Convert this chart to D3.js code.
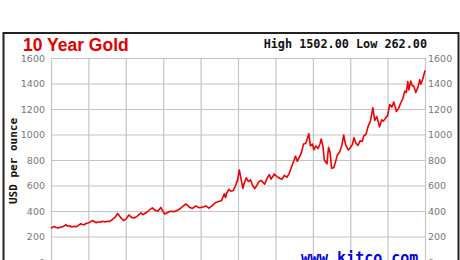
<!DOCTYPE html>
<html>
<head>
<meta charset="utf-8">
<script src="https://cdn.jsdelivr.net/npm/d3@7"></script>
<style>
body { margin: 0; background: #fff; }
</style>
</head>
<body>
<div id="chart"></div>
<script>
// data
var dates = ["2001-04-25","2001-05-10","2001-05-25","2001-06-15","2001-07-05","2001-07-25","2001-08-15","2001-09-05","2001-09-20","2001-10-05","2001-10-25","2001-11-15","2001-12-05","2001-12-25",
"2002-01-15","2002-02-10","2002-02-25","2002-03-15","2002-04-01","2002-04-20","2002-05-10","2002-06-01","2002-06-20","2002-07-10","2002-07-25","2002-08-15","2002-09-10","2002-09-25","2002-10-10","2002-10-30","2002-11-20","2002-12-10",
"2003-01-10","2003-02-05","2003-02-20","2003-03-15","2003-04-05","2003-05-01","2003-05-25","2003-06-20","2003-07-15","2003-08-15","2003-09-20","2003-10-10","2003-10-30","2003-11-20","2003-12-15",
"2004-01-10","2004-02-05","2004-03-05","2004-04-01","2004-04-20","2004-05-10","2004-06-10","2004-07-10","2004-08-10","2004-09-10","2004-10-10","2004-11-15","2004-12-05",
"2005-01-05","2005-02-05","2005-03-10","2005-04-10","2005-05-10","2005-06-15","2005-07-15","2005-08-15","2005-09-15","2005-10-15","2005-11-15","2005-12-12","2005-12-25",
"2006-01-05","2006-01-25","2006-02-15","2006-03-10","2006-04-01","2006-04-20","2006-05-08","2006-05-25","2006-06-12","2006-06-25","2006-07-15","2006-08-05","2006-08-25","2006-09-15","2006-10-05","2006-10-25","2006-11-15","2006-12-05","2006-12-25",
"2007-01-10","2007-02-05","2007-02-25","2007-03-15","2007-04-15","2007-05-10","2007-06-10","2007-06-30","2007-07-20","2007-08-15","2007-09-05","2007-09-25","2007-10-20","2007-11-08","2007-11-25","2007-12-20",
"2008-01-05","2008-01-25","2008-02-15","2008-03-05","2008-03-17","2008-04-01","2008-04-20","2008-05-05","2008-05-25","2008-06-15","2008-07-05","2008-07-15","2008-08-01","2008-08-15","2008-09-10","2008-09-25","2008-10-10","2008-10-25","2008-11-15","2008-12-01","2008-12-20",
"2009-01-10","2009-02-01","2009-02-20","2009-03-10","2009-04-05","2009-04-20","2009-05-15","2009-06-01","2009-06-20","2009-07-10","2009-07-30","2009-08-20","2009-09-05","2009-09-25","2009-10-15","2009-11-10","2009-12-02","2009-12-20",
"2010-01-10","2010-02-05","2010-02-25","2010-03-15","2010-04-05","2010-04-25","2010-05-15","2010-06-05","2010-06-25","2010-07-20","2010-08-10","2010-08-30","2010-09-20","2010-10-10","2010-10-25","2010-11-08","2010-11-18","2010-12-07","2010-12-20",
"2011-01-05","2011-01-25","2011-02-15","2011-03-05","2011-03-15","2011-04-01","2011-04-25"];

var prices = [265,272,278,270,266,272,276,284,292,280,284,275,280,276,
285,300,294,292,302,306,312,325,318,308,314,312,320,316,315,320,318,330,
350,380,365,340,325,340,370,350,345,360,385,372,382,392,410,
425,405,400,428,400,375,390,398,395,405,420,445,455,
430,420,440,425,430,440,422,440,465,475,480,535,505,
540,570,555,560,600,640,722,650,578,620,660,630,645,600,575,600,630,640,625,
610,660,685,650,690,670,655,650,680,665,690,735,790,830,790,830,
860,925,930,975,1005,910,925,880,910,890,930,965,910,800,770,900,860,735,740,780,840,
860,910,996,920,880,890,920,975,930,915,950,945,990,1000,1060,1110,1210,1110,
1140,1060,1115,1105,1130,1150,1235,1215,1255,1180,1205,1245,1280,1340,1330,1415,1350,1420,1385,
1380,1330,1370,1430,1395,1430,1502];

var yTicks = [0, 200, 400, 600, 800, 1000, 1200, 1400, 1600];
var title = "10 Year Gold";
var highLow = "High 1502.00 Low 262.00";
var yLabel = "USD per ounce";
var source = "www.kitco.com";

var W = 460, H = 260;
var plotLeft = 51, plotRight = 425, plotTop = 58, plotBottom = 262;

var parseDate = d3.timeParse("%Y-%m-%d");
var data = dates.map(function (d, i) { return {date: parseDate(d), price: prices[i]}; });

var start = parseDate("2001-04-25");
var end = parseDate("2011-04-25");
var yearTicks = d3.range(11).map(function (i) { return d3.timeYear.offset(start, i); });

var svg = d3.select("#chart")
.append("svg")
.attr("width", W)
.attr("height", H);

// outer frame
svg.append("rect")
.attr("x", 3.5)
.attr("y", 33)
.attr("width", 455)
.attr("height", 260)
.attr("fill", "#fff")
.attr("stroke", "#222")
.attr("stroke-width", 2);

var x = d3.scaleTime()
.domain([start, end])
.range([plotLeft, plotRight]);

var y = d3.scaleLinear()
.domain([0, 1600])
.range([plotBottom, plotTop]);

// vertical grid
svg.append("g")
.attr("class", "grid")
.attr("transform", "translate(0," + plotBottom + ")")
.call(d3.axisBottom(x).tickValues(yearTicks).tickSize(-(plotBottom - plotTop)).tickFormat(""));

// horizontal grid
svg.append("g")
.attr("class", "grid")
.attr("transform", "translate(" + plotLeft + ",0)")
.call(d3.axisLeft(y).tickValues(yTicks).tickSize(-(plotRight - plotLeft)).tickFormat(""));

svg.selectAll(".grid .domain").remove();
svg.selectAll(".grid line")
.attr("stroke", "#c4c4c4")
.attr("stroke-width", 1.2);

// tick labels, both sides
var yl = svg.append("g")
.attr("transform", "translate(" + (plotLeft - 1) + ",0)")
.call(d3.axisLeft(y).tickValues(yTicks).tickSize(0).tickPadding(5).tickFormat(d3.format("d")));
var yr = svg.append("g")
.attr("transform", "translate(" + (plotRight + 1) + ",0)")
.call(d3.axisRight(y).tickValues(yTicks).tickSize(0).tickPadding(2).tickFormat(d3.format("d")));
[yl, yr].forEach(function (g) {
g.select(".domain").remove();
g.selectAll("text")
.attr("fill", "#777")
.style("font-family", "DejaVu Sans, Verdana, sans-serif")
.style("font-size", "9.5px");
});

// the line
svg.append("path")
.datum(data)
.attr("fill", "none")
.attr("stroke", "#f00000")
.attr("stroke-width", 1.6)
.attr("stroke-linejoin", "round")
.attr("d", d3.line()
.x(function (d) { return x(d.date); })
.y(function (d) { return y(d.price); })
);

// texts
svg.append("text")
.attr("x", 23)
.attr("y", 50.5)
.attr("fill", "#e00000")
.style("font-family", "Liberation Sans, Arial, sans-serif")
.style("font-weight", "bold")
.style("font-size", "17.5px")
.text(title);

svg.append("text")
.attr("x", 427)
.attr("y", 47.5)
.attr("text-anchor", "end")
.attr("fill", "#111")
.style("font-family", "DejaVu Sans Mono, monospace")
.style("font-weight", "bold")
.style("font-size", "11.8px")
.text(highLow);

svg.append("text")
.attr("transform", "translate(17,161) rotate(-90)")
.attr("text-anchor", "middle")
.attr("fill", "#111")
.style("font-family", "DejaVu Sans Mono, monospace")
.style("font-weight", "bold")
.style("font-size", "11px")
.text(yLabel);

svg.append("text")
.attr("x", 301)
.attr("y", 263)
.attr("fill", "#0000dd")
.style("font-family", "DejaVu Sans Mono, monospace")
.style("font-weight", "bold")
.style("font-size", "15px")
.text(source);
</script>
</body>
</html>
